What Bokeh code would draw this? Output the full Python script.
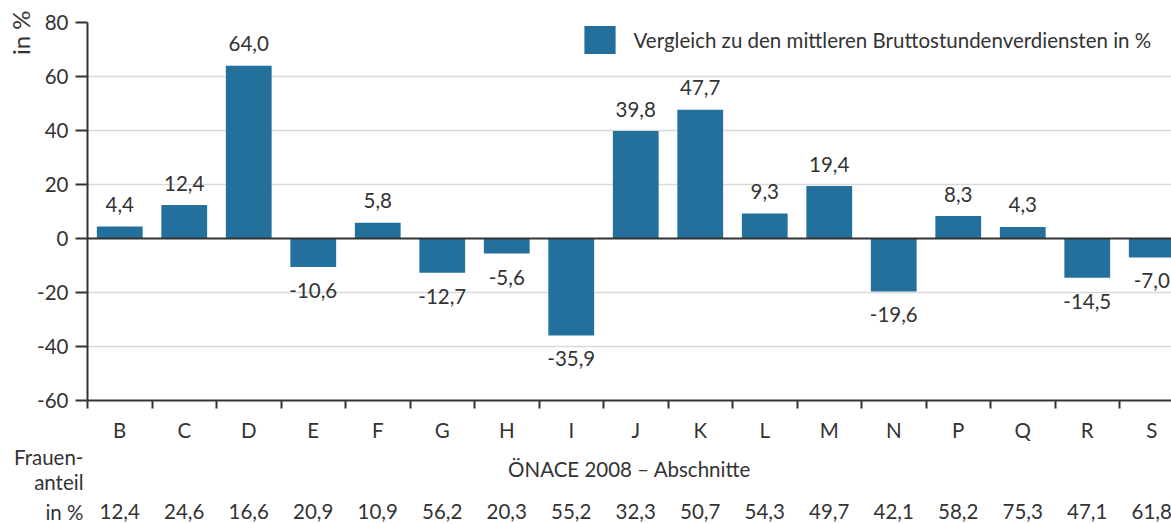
from bokeh.plotting import figure
from bokeh.layouts import column
from bokeh.models import (ColumnDataSource, FixedTicker, Span, Title,
                          Legend, LegendItem, Range1d, LinearAxis)
from bokeh.core.properties import value
from bokeh.embed import file_html
from bokeh.resources import INLINE

# ---- data ----
categories = ["B", "C", "D", "E", "F", "G", "H", "I", "J", "K", "L", "M", "N", "P", "Q", "R", "S"]
vergleich = [4.4, 12.4, 64.0, -10.6, 5.8, -12.7, -5.6, -35.9, 39.8, 47.7, 9.3, 19.4, -19.6, 8.3, 4.3, -14.5, -7.0]
frauenanteil = [12.4, 24.6, 16.6, 20.9, 10.9, 56.2, 20.3, 55.2, 32.3, 50.7, 54.3, 49.7, 42.1, 58.2, 75.3, 47.1, 61.8]
y_ticks = [-60, -40, -20, 0, 20, 40, 60, 80]
legend_label = "Vergleich zu den mittleren Bruttostundenverdiensten in %"
x_title = "ÖNACE 2008 – Abschnitte"
row_title = ["Frauen-", "anteil", "in %"]
y_title = "in %"

FONT = "Lato"
TXT = "#333333"
BAR = "#23709c"
FS = "20.5px"

def fmt(v):
    return f"{v:.1f}".replace(".", ",")

n = len(categories)
centers = [i + 0.5 for i in range(n)]
bounds = list(range(n + 1))

# layout constants (pixels)
W = 1171
LEFT = 87          # frame left
TOP = 22           # frame top
BOT = 400          # frame bottom
H1 = 444           # height of the main figure
H2 = 524 - H1      # height of the table-row figure
STEP = 64.5        # pixels per category
XEND = (W - LEFT) / STEP

pos = [v >= 0 for v in vergleich]
src = ColumnDataSource(dict(x=centers, top=vergleich))
src_pos = ColumnDataSource(dict(
    x=[xi for xi, p in zip(centers, pos) if p],
    y=[v for v, p in zip(vergleich, pos) if p],
    t=[fmt(v) for v, p in zip(vergleich, pos) if p]))
src_neg = ColumnDataSource(dict(
    x=[xi for xi, p in zip(centers, pos) if not p],
    y=[v for v, p in zip(vergleich, pos) if not p],
    t=[fmt(v) for v, p in zip(vergleich, pos) if not p]))

p = figure(width=W, height=H1, output_backend="svg", toolbar_location=None,
           x_range=Range1d(0, XEND), y_range=Range1d(-60, 80),
           min_border_left=LEFT, min_border_right=0, min_border_top=TOP,
           min_border_bottom=H1 - BOT, outline_line_color=None, x_axis_location=None)
p.background_fill_color = "white"
p.border_fill_color = "white"

bars = p.vbar(x="x", top="top", bottom=0, width=0.71, source=src,
              fill_color=BAR, line_color=None)

# value labels
p.text(x="x", y="y", text="t", source=src_pos, text_align="center",
       text_baseline="alphabetic", y_offset=-22, text_color=TXT,
       text_font=value(FONT), text_font_size=FS)
p.text(x="x", y="y", text="t", source=src_neg, text_align="center",
       text_baseline="alphabetic", y_offset=23.5, text_color=TXT,
       text_font=value(FONT), text_font_size=FS)

# y axis
p.yaxis.ticker = FixedTicker(ticks=y_ticks)
p.yaxis.major_label_overrides = {t: str(t) for t in y_ticks}
p.yaxis.major_tick_out = 12
p.yaxis.major_tick_in = 0
p.yaxis.minor_tick_line_color = None
p.yaxis.axis_line_color = TXT
p.yaxis.axis_line_width = 2
p.yaxis.major_tick_line_color = TXT
p.yaxis.major_tick_line_width = 2
p.yaxis.major_label_text_font = FONT
p.yaxis.major_label_text_font_size = FS
p.yaxis.major_label_text_color = TXT
p.yaxis.major_label_standoff = 7

# rotated y title in the left border
p.add_layout(Title(text=y_title, align="right", offset=-12, text_font=FONT,
                   text_font_size="24px", text_font_style="normal", text_color=TXT,
                   standoff=0), "left")

# x axis: letters at centers, tick marks at category boundaries
xa = LinearAxis(ticker=FixedTicker(ticks=centers, minor_ticks=bounds),
                major_label_overrides={c: l for c, l in zip(centers, categories)},
                major_tick_out=0, major_tick_in=0, major_tick_line_color=None,
                minor_tick_out=8, minor_tick_in=0, minor_tick_line_color=TXT,
                minor_tick_line_width=2, axis_line_color=TXT, axis_line_width=2,
                major_label_standoff=9, major_label_text_font=FONT,
                major_label_text_font_size=FS, major_label_text_color=TXT)
p.add_layout(xa, "below")

p.xgrid.grid_line_color = None
p.ygrid.ticker = FixedTicker(ticks=[t for t in y_ticks if t not in (-60, 0, 80)])
p.ygrid.grid_line_color = "#d9d9d9"
p.ygrid.grid_line_width = 1.5

p.add_layout(Span(location=0, dimension="width", line_color=TXT, line_width=2))

# legend
leg = Legend(items=[LegendItem(label=legend_label, renderers=[bars])],
             location=(492.5, 343), orientation="vertical",
             glyph_width=39, glyph_height=35, label_standoff=15,
             padding=0, margin=0, spacing=0,
             border_line_color=None, background_fill_alpha=0,
             label_text_font=FONT, label_text_font_size=FS,
             label_text_color=TXT, label_height=35)
p.add_layout(leg)

# ---- lower figure: axis title, women share row and its row title ----
# same horizontal scale as the main plot (frames are aligned); y in pixels from top
ROW_Y = [3, 37, 67]     # Frauen- / anteil / in % (and the value row)
TITLE_Y = 24
q = figure(width=W, height=H2, output_backend="svg", toolbar_location=None,
           x_range=Range1d(0, XEND), y_range=Range1d(H2, 0),
           min_border_left=LEFT, min_border_right=0, min_border_top=0,
           min_border_bottom=0, outline_line_color=None, x_axis_location=None)
q.grid.grid_line_color = None
q.background_fill_color = "white"
q.border_fill_color = "white"
q.yaxis.ticker = FixedTicker(ticks=ROW_Y, minor_ticks=[])
q.yaxis.major_label_overrides = {y: t for y, t in zip(ROW_Y, row_title)}
q.yaxis.axis_line_color = None
q.yaxis.major_tick_line_color = None
q.yaxis.minor_tick_line_color = None
q.yaxis.major_tick_out = 0
q.yaxis.major_tick_in = 0
q.yaxis.major_label_standoff = 4
q.yaxis.major_label_text_font = FONT
q.yaxis.major_label_text_font_size = FS
q.yaxis.major_label_text_color = TXT

q.text(x=centers, y=[ROW_Y[2]] * n, text=[fmt(v) for v in frauenanteil],
       text_align="center", text_baseline="middle", text_color=TXT,
       text_font=value(FONT), text_font_size=FS)
q.text(x=[XEND / 2], y=[TITLE_Y], text=[x_title], text_align="center",
       text_baseline="middle", text_color=TXT, text_font=value(FONT),
       text_font_size=FS)

layout = column(p, q, spacing=0)
open("out.html", "w").write(file_html(layout, INLINE))
